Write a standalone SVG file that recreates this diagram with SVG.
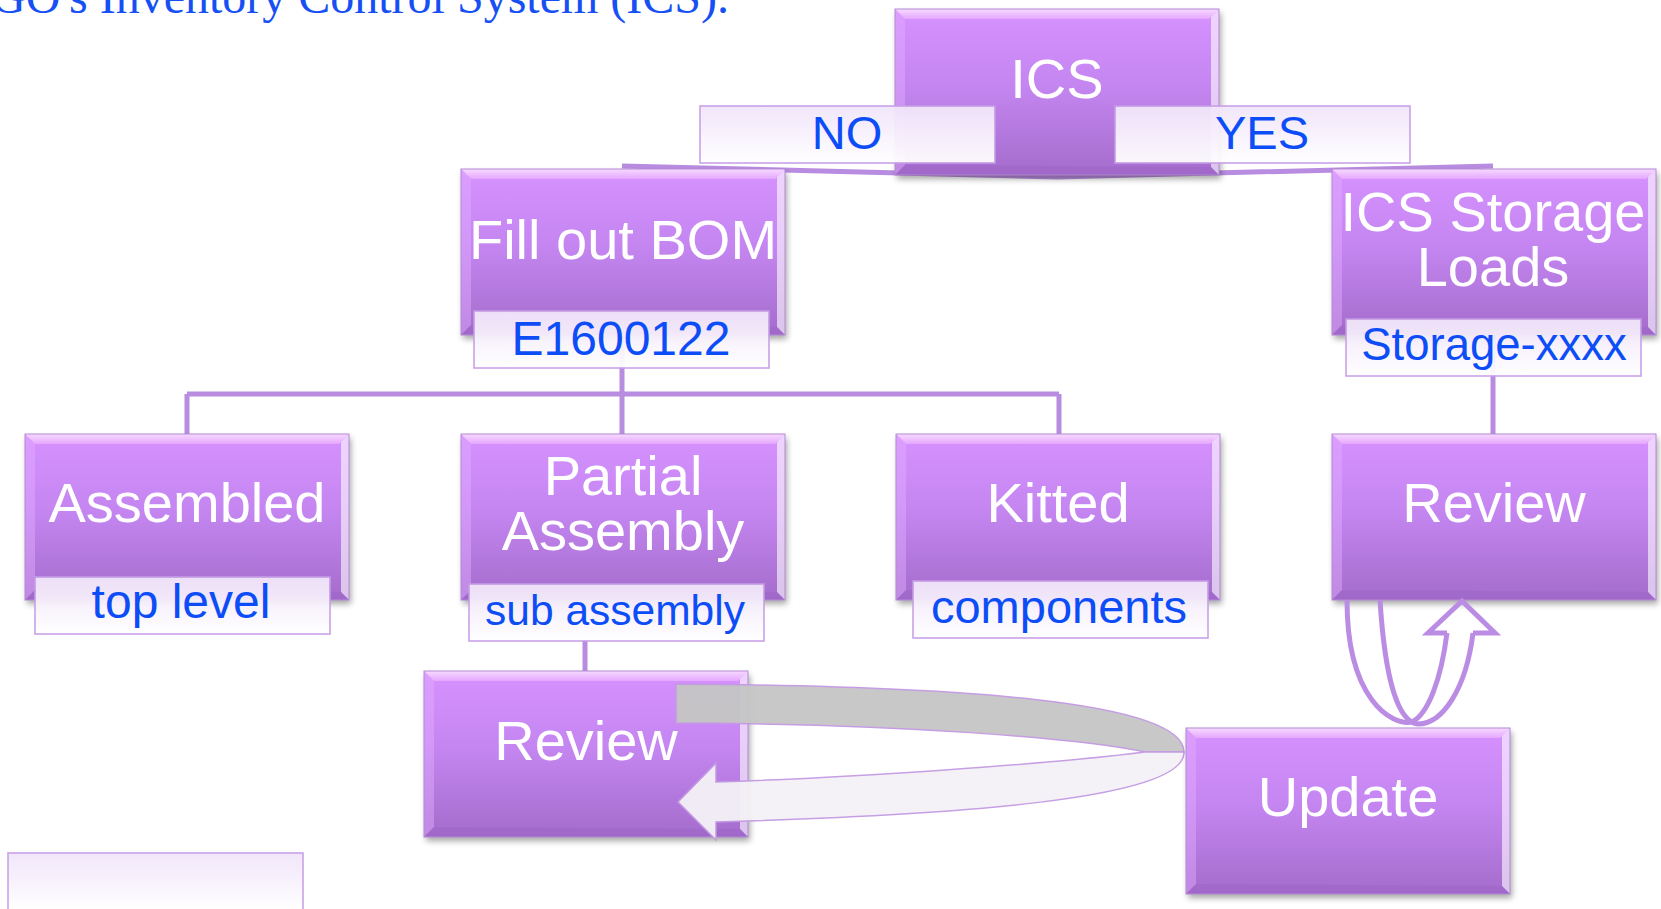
<svg xmlns="http://www.w3.org/2000/svg" xmlns:xlink="http://www.w3.org/1999/xlink" width="1661" height="909" viewBox="0 0 1661 909">
  <style>
    .node-t { font-family: "Liberation Sans", Arial, sans-serif; font-size: 56px; fill: #ffffff; text-anchor: middle; }
    .lab-t { font-family: "Liberation Sans", Arial, sans-serif; font-size: 47px; fill: #0d4df7; text-anchor: middle; }
    .title { font-family: "Liberation Serif", "Times New Roman", serif; font-size: 48px; fill: #1650f5; }
    .conn { fill: none; stroke: #b88ce0; stroke-width: 5; stroke-linecap: butt; }
    .lab { fill: url(#gLab); stroke: #c69de6; stroke-width: 1.6; opacity: 0.95; }
    .uturn { fill: none; stroke: #bb8ce4; stroke-width: 5; stroke-linejoin: miter; }
  </style>
  <defs>
    <linearGradient id="gBox" x1="0" y1="0" x2="0" y2="1">
      <stop offset="0" stop-color="#d692ff"/>
      <stop offset="0.45" stop-color="#c586f1"/>
      <stop offset="1" stop-color="#a46ccc"/>
    </linearGradient>
    <linearGradient id="gTop" x1="0" y1="0" x2="0" y2="1">
      <stop offset="0" stop-color="#fbe2ff"/>
      <stop offset="1" stop-color="#e7a9ff"/>
    </linearGradient>
    <linearGradient id="gLab" x1="0" y1="0" x2="0" y2="1">
      <stop offset="0" stop-color="#f1e5fa"/>
      <stop offset="1" stop-color="#ffffff"/>
    </linearGradient>
    <filter id="sh" x="-10%" y="-10%" width="130%" height="140%">
      <feGaussianBlur in="SourceAlpha" stdDeviation="3"/>
      <feOffset dx="2" dy="4"/>
      <feComponentTransfer><feFuncA type="linear" slope="0.35"/></feComponentTransfer>
      <feMerge><feMergeNode/><feMergeNode in="SourceGraphic"/></feMerge>
    </filter>
    <!-- bevelled purple box, 324 x 166 -->
    <g id="bx">
      <rect width="324" height="166" fill="url(#gBox)" filter="url(#sh)"/>
      <polygon points="0,0 324,0 314,10 10,10" fill="url(#gTop)" opacity="0.9"/>
      <polygon points="0,0 10,10 10,156 0,166" fill="#e3acff" opacity="0.45"/>
      <polygon points="324,0 324,166 316,158 316,8" fill="#ffffff" opacity="0.6"/>
      <polygon points="0,166 10,156 316,158 324,166" fill="#9560c0" opacity="0.3"/>
      <rect width="324" height="166" fill="none" stroke="#b48ad6" stroke-width="1"/>
    </g>
    <rect id="lb" class="lab" width="295" height="57"/>
  </defs>

  <rect width="1661" height="909" fill="#ffffff"/>

  <text class="title" x="-9" y="13">GO's Inventory Control System (ICS).</text>

  <!-- tree connectors -->
  <g id="connectors">
    <path class="conn" d="M622 166 L1057 177 L1493 166"/>
    <path class="conn" d="M622 335 V394 M187 394 H1059 M187 394 V434 M622 394 V434 M1059 394 V434"/>
    <path class="conn" d="M1493 335 V434"/>
    <path class="conn" d="M585 640 V671"/>
  </g>

  <g id="node-ics">
    <use xlink:href="#bx" x="895" y="9"/>
    <text class="node-t" x="1057" y="98">ICS</text>
  </g>
  <g id="label-no">
    <use xlink:href="#lb" x="700" y="106"/>
    <text class="lab-t" x="847" y="149">NO</text>
  </g>
  <g id="label-yes">
    <use xlink:href="#lb" x="1115" y="106"/>
    <text class="lab-t" x="1262" y="149">YES</text>
  </g>

  <g id="node-bom">
    <use xlink:href="#bx" x="461" y="169"/>
    <text class="node-t" x="623" y="259">Fill out BOM</text>
    <use xlink:href="#lb" x="474" y="311"/>
    <text class="lab-t" x="621" y="355" style="font-size:48px">E1600122</text>
  </g>

  <g id="node-storage">
    <use xlink:href="#bx" x="1332" y="169"/>
    <text class="node-t" x="1493" y="231">ICS Storage</text>
    <text class="node-t" x="1493" y="286">Loads</text>
    <use xlink:href="#lb" x="1346" y="319"/>
    <text class="lab-t" x="1494" y="360" style="font-size:45.5px">Storage-xxxx</text>
  </g>

  <g id="node-assembled">
    <use xlink:href="#bx" x="25" y="434"/>
    <text class="node-t" x="187" y="522">Assembled</text>
    <use xlink:href="#lb" x="35" y="577"/>
    <text class="lab-t" x="181" y="618" style="font-size:48px">top level</text>
  </g>

  <g id="node-partial">
    <use xlink:href="#bx" x="461" y="434"/>
    <text class="node-t" x="623" y="495">Partial</text>
    <text class="node-t" x="623" y="550">Assembly</text>
    <use xlink:href="#lb" x="469" y="584"/>
    <text class="lab-t" x="615" y="625" style="font-size:42.5px">sub assembly</text>
  </g>

  <g id="node-kitted">
    <use xlink:href="#bx" x="896" y="434"/>
    <text class="node-t" x="1058" y="522">Kitted</text>
    <use xlink:href="#lb" x="913" y="581"/>
    <text class="lab-t" x="1059" y="623">components</text>
  </g>

  <g id="node-review-right">
    <use xlink:href="#bx" x="1332" y="434"/>
    <text class="node-t" x="1494" y="522">Review</text>
  </g>

  <g id="node-review-left">
    <use xlink:href="#bx" x="424" y="671"/>
    <text class="node-t" x="586" y="760">Review</text>
  </g>

  <!-- loop arrow from Update back to the lower Review -->
  <g id="loop-arrow-left">
    <path d="M676 684 C950 686 1184 700 1184 752 L1145 752 C1080 738 900 724 676 723 Z" fill="#c6c6c6" stroke="#c49ae4" stroke-width="1.5" opacity="0.96"/>
    <path d="M1184 752 C1186 800 950 815 716 822 L716 840 L678 802 L716 763 L716 782 C850 778 1050 764 1145 752 Z" fill="#f4f2f6" stroke="#c49ae4" stroke-width="1.5" opacity="0.95"/>
  </g>

  <!-- twisted U-turn arrow between Update and the right Review -->
  <g id="loop-arrow-right">
    <path class="uturn" d="M1347 600 C1347 700 1392 726 1412 722 C1428 714 1441 680 1447 633"/>
    <path class="uturn" d="M1380 600 C1385 680 1398 722 1418 724 C1442 724 1466 690 1473 633"/>
    <path class="uturn" d="M1447 633 L1428 633 L1462 601 L1495 633 L1473 633"/>
  </g>

  <g id="node-update">
    <use xlink:href="#bx" x="1186" y="728"/>
    <text class="node-t" x="1348" y="816">Update</text>
  </g>

  <g id="label-empty">
    <use xlink:href="#lb" x="8" y="853"/>
  </g>
</svg>
